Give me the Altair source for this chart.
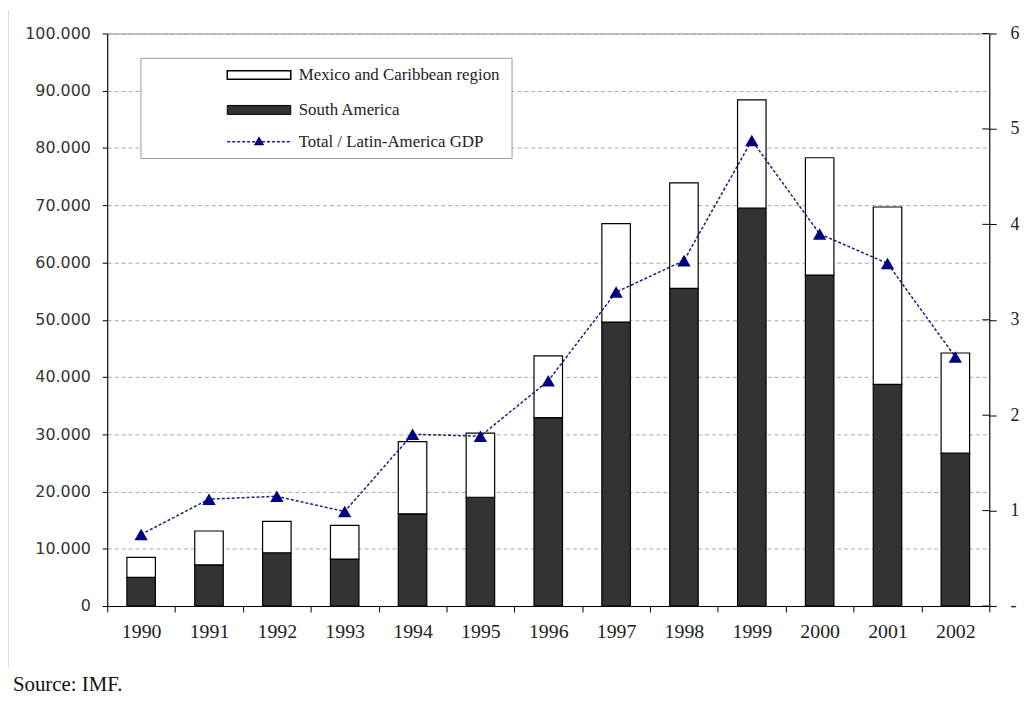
import altair as alt
import pandas as pd

# ---- data ----
years = ["1990", "1991", "1992", "1993", "1994", "1995", "1996",
         "1997", "1998", "1999", "2000", "2001", "2002"]
south_america = [5000, 7200, 9300, 8200, 16100, 19000, 32900,
                 49600, 55500, 69500, 57800, 38700, 26700]
total_region = [8500, 13100, 14800, 14100, 28700, 30200, 43700,
                66800, 73900, 88400, 78300, 69700, 44200]
gdp_share = [0.75, 1.12, 1.15, 0.99, 1.80, 1.78, 2.36,
             3.29, 3.62, 4.88, 3.90, 3.59, 2.61]
left_ticks = [0, 10000, 20000, 30000, 40000, 50000, 60000, 70000, 80000, 90000, 100000]
right_ticks = [0, 1, 2, 3, 4, 5, 6]
legend_labels = ["Mexico and Caribbean region", "South America", "Total / Latin-America GDP"]
source_text = "Source: IMF."

SERIF = "Liberation Serif"
SANS = "DejaVu Sans"
W, H = 889, 577

df = pd.DataFrame({"year": years, "sa": south_america,
                   "total": total_region, "share": gdp_share})
rt = pd.DataFrame({"v": right_ticks})

x_enc = alt.X("year:N", sort=years,
              scale=alt.Scale(paddingInner=0, paddingOuter=0),
              axis=alt.Axis(title=None, labelAngle=0, tickBand="extent",
                            tickSize=6, tickColor="black", domainColor="black",
                            labelFont=SERIF, labelFontSize=20, labelColor="#222",
                            labelPadding=10))

left_axis = alt.Axis(orient="left", values=left_ticks, title=None,
                     labelExpr="datum.value == 0 ? '0' : format(datum.value/1000, '.3f')",
                     grid=True, gridDash=[4, 3], gridColor="#a8a8a8",
                     tickSize=5, tickColor="black", domainColor="black",
                     labelFont=SANS, labelFontSize=16, labelColor="#333",
                     labelPadding=12)
left_scale = alt.Scale(domain=[0, 100000], nice=False)

bar_sa = alt.Chart(df).mark_bar(
    width=alt.RelativeBandSize(0.42), fill="#333333", stroke="black", strokeWidth=1.2
).encode(x=x_enc, y=alt.Y("sa:Q", scale=left_scale, axis=left_axis))

bar_mx = alt.Chart(df).mark_bar(
    width=alt.RelativeBandSize(0.42), fill="white", stroke="black", strokeWidth=1.2
).encode(x=x_enc, y=alt.Y("sa:Q", scale=left_scale, axis=left_axis), y2="total:Q")

right_axis = alt.Axis(orient="right", values=right_ticks, title=None, grid=False,
                      labelExpr="datum.value == 0 ? '-' : datum.label",
                      tickSize=7, tickColor="black", domainColor="black",
                      labelFont=SERIF, labelFontSize=18, labelColor="#222",
                      labelPadding=14)
right_scale = alt.Scale(domain=[0, 6], nice=False)

line = alt.Chart(df).mark_line(
    color="#1c1c80", strokeWidth=1.5, strokeDash=[3, 2]
).encode(x=x_enc, y=alt.Y("share:Q", scale=right_scale, axis=right_axis))

pts = alt.Chart(df).mark_point(
    shape="triangle-up", size=180, filled=True, color="#000080", opacity=1
).encode(x=x_enc, y=alt.Y("share:Q", scale=right_scale, axis=right_axis))

cross_ticks = alt.Chart(rt).mark_rule(color="black", strokeWidth=1).encode(
    y=alt.Y("v:Q", scale=right_scale, axis=right_axis),
    x=alt.value(W - 7), x2=alt.value(W))

left_group = alt.layer(bar_sa, bar_mx)
right_group = alt.layer(line, pts, cross_ticks)

# ---- legend (manual, inside plot) ----
one = pd.DataFrame({"k": [0]})
leg_box = alt.Chart(one).mark_rect(fill="white", stroke="#9a9a9a", strokeWidth=1).encode(
    x=alt.value(34), x2=alt.value(408), y=alt.value(25), y2=alt.value(126))
leg_mx = alt.Chart(one).mark_rect(fill="white", stroke="black", strokeWidth=1.5).encode(
    x=alt.value(121), x2=alt.value(185), y=alt.value(37.5), y2=alt.value(46))
leg_sa = alt.Chart(one).mark_rect(fill="#333333", stroke="black", strokeWidth=1).encode(
    x=alt.value(121), x2=alt.value(185), y=alt.value(72.5), y2=alt.value(81.5))
leg_line = alt.Chart(one).mark_rule(color="#1c1c80", strokeWidth=1.5, strokeDash=[3, 2]).encode(
    x=alt.value(121), x2=alt.value(185), y=alt.value(109))
leg_pt = alt.Chart(one).mark_point(shape="triangle-up", size=110, filled=True,
                                   color="#000080", opacity=1).encode(
    x=alt.value(153), y=alt.value(108))


def leg_text(label, ypos):
    return alt.Chart(pd.DataFrame({"label": [label]})).mark_text(
        align="left", baseline="middle", font=SERIF, fontSize=17, color="#222"
    ).encode(text="label:N", x=alt.value(193), y=alt.value(ypos))


leg_t1 = leg_text(legend_labels[0], 42)
leg_t2 = leg_text(legend_labels[1], 77)
leg_t3 = leg_text(legend_labels[2], 109)

src = alt.Chart(pd.DataFrame({"label": [source_text]})).mark_text(
    align="left", baseline="middle", font=SERIF, fontSize=21, color="#111"
).encode(text="label:N", x=alt.value(-95), y=alt.value(657))

frame = alt.Chart(one).mark_rule(color="#cfcfcf", strokeWidth=1.5).encode(
    x=alt.value(-100), y=alt.value(-23), y2=alt.value(639))

chart = alt.layer(
    left_group, right_group,
    leg_box, leg_mx, leg_sa, leg_line, leg_pt, leg_t1, leg_t2, leg_t3,
    src, frame
).resolve_scale(y="independent").properties(
    width=W, height=H,
    autosize=alt.AutoSizeParams(type="none"),
    padding={"left": 100, "top": 23, "right": 36, "bottom": 93},
    background="white"
).configure_view(stroke="#888888", strokeWidth=1)

chart.save("out.html", embed_options={"renderer": "svg", "actions": False})
